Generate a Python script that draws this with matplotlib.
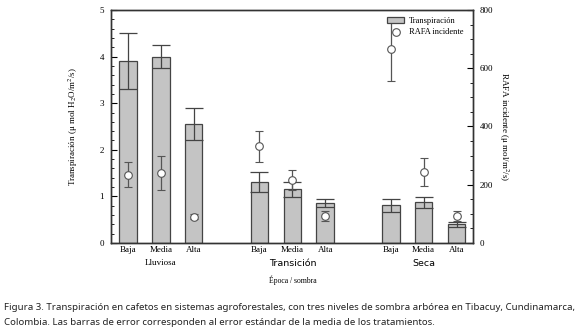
import matplotlib
matplotlib.use("Agg")
import matplotlib.pyplot as plt
from matplotlib.ticker import MultipleLocator
from matplotlib.lines import Line2D

plt.rcParams['font.family'] = ['Liberation Serif', 'DejaVu Serif']
plt.rcParams['mathtext.fontset'] = 'stix'

shade = ["Baja", "Media", "Alta"] * 3
seasons = ["Lluviosa", "Transición", "Seca"]
transp = [3.90, 4.00, 2.55, 1.31, 1.15, 0.86, 0.81, 0.87, 0.40]
transp_err = [0.60, 0.24, 0.35, 0.22, 0.16, 0.08, 0.14, 0.12, 0.06]
rafa = [235, 240, 90, 332, 217, 93, 665, 244, 93]
rafa_err = [44, 58, 8, 54, 34, 17, 108, 48, 17]
positions = [0, 1, 2, 4, 5, 6, 8, 9, 10]

fig = plt.figure(figsize=(5.8, 3.32), dpi=100)
ax = fig.add_axes([0.1914, 0.2681, 0.6241, 0.7018])
ax2 = ax.twinx()

ax.bar(positions, transp, width=0.53, color='#c4c4c4', edgecolor='#444444',
       linewidth=0.9, label='Transpiración', zorder=2)
ax.errorbar(positions, transp, yerr=transp_err, fmt='none', ecolor='#444444',
            elinewidth=0.9, capsize=6.2, capthick=0.9, zorder=3)

ax2.errorbar(positions, rafa, yerr=rafa_err, fmt='o', color='#555555', mfc='white',
             mec='#555555', ms=5.5, mew=0.8, elinewidth=0.9, capsize=3, capthick=0.9,
             label='RAFA incidente', zorder=4)

ax.set_xlim(-0.52, 10.5)
ax.set_ylim(0, 5)
ax2.set_ylim(0, 800)

ax.set_xticks(positions)
ax.set_xticklabels(shade, fontsize=6.5)
ax.tick_params(axis='x', length=0, pad=2)
ax.yaxis.set_major_locator(MultipleLocator(1))
ax.yaxis.set_minor_locator(MultipleLocator(0.2))
ax.tick_params(axis='y', which='major', direction='in', length=4, width=0.8, labelsize=6.5, pad=5)
ax.tick_params(axis='y', which='minor', direction='in', length=2, width=0.6)
ax2.yaxis.set_major_locator(MultipleLocator(200))
ax2.yaxis.set_minor_locator(MultipleLocator(50))
ax2.tick_params(axis='y', which='major', direction='in', length=4, width=0.8, labelsize=6.5, pad=5)
ax2.tick_params(axis='y', which='minor', direction='in', length=2, width=0.6)

for a in (ax, ax2):
    for s in a.spines.values():
        s.set_linewidth(1.0)
        s.set_color('#333333')

ax.set_ylabel('Transpiración (μ mol H$_2$O/m$^2$/s)', fontsize=6.5, labelpad=14)
ax2.set_ylabel('RAFA incidente (μ mol/m$^2$/s)', fontsize=6.5, rotation=270, labelpad=12)

group_centers = [1, 5, 9]
ax.text(group_centers[0], -0.088, seasons[0], transform=ax.get_xaxis_transform(),
        ha='center', va='center', fontsize=6.5)
for c, s in zip(group_centers[1:], seasons[1:]):
    ax.text(c, -0.088, s, transform=ax.get_xaxis_transform(), ha='center', va='center',
            fontsize=6.8, family=['DejaVu Sans'])
ax.text(5, -0.158, 'Época / sombra', transform=ax.get_xaxis_transform(),
        ha='center', va='center', fontsize=5.5)

h1, l1 = ax.get_legend_handles_labels()
h2 = [Line2D([], [], ls='none', marker='o', mfc='white', mec='#555555', ms=5.5, mew=0.8)]
l2 = ['RAFA incidente']
ax2.legend(h1 + h2, l1 + l2, loc='upper right', bbox_to_anchor=(0.99, 0.995), frameon=False,
           fontsize=6, handlelength=2.0, handleheight=0.6, borderaxespad=0.3,
           labelspacing=0.4, handletextpad=0.6)

fig.text(0.007, 0.075, "Figura 3. Transpiración en cafetos en sistemas agroforestales, con tres niveles de sombra arbórea en Tibacuy, Cundinamarca,",
         fontsize=6.95, family=['Noto Sans'], color='#222222', va='center')
fig.text(0.007, 0.03, "Colombia. Las barras de error corresponden al error estándar de la media de los tratamientos.",
         fontsize=6.95, family=['Noto Sans'], color='#222222', va='center')

fig.savefig('out.png', dpi=100)
